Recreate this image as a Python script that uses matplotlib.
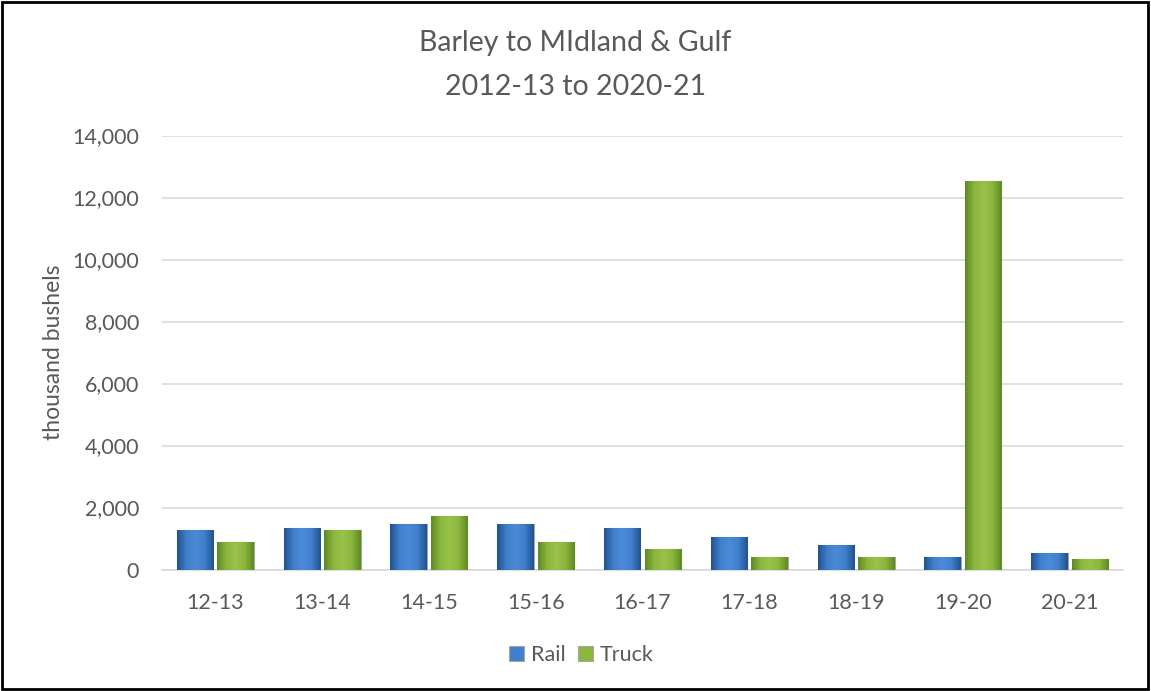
import numpy as np
import matplotlib.pyplot as plt
from matplotlib.patches import Rectangle
from matplotlib.colors import LinearSegmentedColormap
from matplotlib.ticker import FuncFormatter

plt.rcParams['font.family'] = ['Lato', 'DejaVu Sans']

seasons = ['12-13', '13-14', '14-15', '15-16', '16-17', '17-18', '18-19', '19-20', '20-21']
rail = [1270, 1340, 1480, 1480, 1340, 1050, 790, 390, 520]
truck = [880, 1270, 1730, 880, 660, 390, 390, 12550, 330]

fig = plt.figure(figsize=(11.51, 6.91), dpi=100)
ax = fig.add_axes([0.1407, 0.1758, 0.835, 0.628])

x = np.arange(len(seasons))
w = 0.34
off = 0.19

blue_cm = LinearSegmentedColormap.from_list('b', ['#23538f', '#3f7fcb', '#4a8ad6', '#3f7fcb', '#23538f'])
green_cm = LinearSegmentedColormap.from_list('g', ['#5f8a25', '#8cb63e', '#99c24a', '#8cb63e', '#5f8a25'])

def shaded(bars, cmap):
    grad = np.linspace(0, 1, 64).reshape(1, -1)
    for b in bars:
        x0, y0 = b.get_x(), b.get_y()
        bw, bh = b.get_width(), b.get_height()
        im = ax.imshow(grad, cmap=cmap, aspect='auto', extent=(x0, x0 + bw, y0, y0 + bh), zorder=3)
        im.set_clip_path(b)

r = ax.bar(x - off, rail, w, color='#3f7fcb', edgecolor='#a6a6a6', linewidth=0.8, zorder=3, label='Rail')
t = ax.bar(x + off, truck, w, color='#8cb63e', edgecolor='#a6a6a6', linewidth=0.8, zorder=3, label='Truck')
shaded(r, blue_cm)
shaded(t, green_cm)

ax.set_xlim(-0.5, len(seasons) - 0.5)
ax.set_ylim(0, 14000)
ax.set_yticks(np.arange(0, 14001, 2000))
ax.yaxis.set_major_formatter(FuncFormatter(lambda v, p: f'{int(v):,}'))
ax.set_xticks(x)
ax.set_xticklabels(seasons)
ax.grid(axis='y', color='#d9d9d9', linewidth=1.2, zorder=0)
ax.set_axisbelow(True)
for s in ['left', 'right', 'top']:
    ax.spines[s].set_visible(False)
ax.spines['bottom'].set_color('#d9d9d9')
ax.spines['bottom'].set_linewidth(1.2)
ax.tick_params(axis='both', length=0, labelsize=15.5, colors='#595959')
ax.tick_params(axis='y', pad=16.5)
ax.tick_params(axis='x', pad=17)
ax.set_ylabel('thousand bushels', fontsize=16.5, color='#595959', labelpad=6)

fig.text(0.5, 0.938, 'Barley to MIdland & Gulf', ha='center', va='center', fontsize=20.5, color='#595959')
fig.text(0.5, 0.874, '2012-13 to 2020-21', ha='center', va='center', fontsize=20.5, color='#595959')

leg = fig.legend(handles=[r, t], labels=['Rail', 'Truck'], loc='center', bbox_to_anchor=(0.505, 0.052),
                 ncol=2, frameon=False, fontsize=15.5, handlelength=0.7, handleheight=0.7,
                 handletextpad=0.3, columnspacing=0.6, labelcolor='#595959')

fig.patches.append(Rectangle((0.002, 0.003), 0.995, 0.994, transform=fig.transFigure,
                             fill=False, edgecolor='black', linewidth=2))

fig.savefig('out.png', dpi=100, facecolor='white')
